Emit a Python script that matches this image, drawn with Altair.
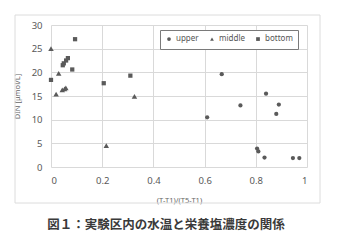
import altair as alt
import pandas as pd

# DIN against normalised temperature, by sampling layer
upper_x = [0.61, 0.667, 0.74, 0.84, 0.88, 0.89, 0.805, 0.81, 0.834, 0.945, 0.97]
upper_y = [10.5, 19.6, 13.0, 15.5, 11.2, 13.2, 3.9, 3.3, 2.0, 1.9, 1.9]
middle_x = [0.0, 0.03, 0.02, 0.044, 0.053, 0.058, 0.216, 0.326]
middle_y = [25.0, 19.8, 15.4, 16.3, 16.5, 16.7, 4.5, 14.9]
bottom_x = [0.0, 0.046, 0.05, 0.059, 0.066, 0.083, 0.094, 0.206, 0.31]
bottom_y = [18.4, 21.5, 21.9, 22.5, 23.0, 20.6, 27.0, 17.7, 19.3]

layers = ["upper", "middle", "bottom"]
marker_sizes = {"upper": 18, "middle": 30, "bottom": 18}
caption = "図１：実験区内の水温と栄養塩濃度の関係"

rows = []
for name, xs, ys in [("upper", upper_x, upper_y),
                     ("middle", middle_x, middle_y),
                     ("bottom", bottom_x, bottom_y)]:
    rows += [{"t": x, "din": y, "layer": name} for x, y in zip(xs, ys)]
df = pd.DataFrame(rows)

grey = "#5a5a5a"
font = "Noto Sans"

x_enc = alt.X("t:Q", scale=alt.Scale(domain=[0, 1], nice=False),
              axis=alt.Axis(values=[0, 0.2, 0.4, 0.6, 0.8, 1], labelExpr="format(datum.value, '')",
                            title="(T-T1)/(T5-T1)", titleFontSize=7.5, titleFontWeight="normal",
                            titleColor="#666666", titlePadding=12, labelPadding=8))
y_enc = alt.Y("din:Q", scale=alt.Scale(domain=[0, 30], nice=False),
              axis=alt.Axis(values=[0, 5, 10, 15, 20, 25, 30], title="DIN [μmol/L]",
                            titleFontSize=7.5, titleFontWeight="normal", titleColor="#666666",
                            titlePadding=10, labelPadding=9))
shape_enc = alt.Shape("layer:N",
                      scale=alt.Scale(domain=layers, range=["circle", "triangle-up", "square"]),
                      legend=alt.Legend(title=None, orient="none", legendX=109, legendY=5,
                                        direction="horizontal", strokeColor="#7a7a7a",
                                        fillColor="white", padding=5, symbolSize=14,
                                        symbolFillColor=grey, symbolStrokeColor=grey,
                                        labelFontSize=8, labelColor="#555555", labelFont=font,
                                        columnPadding=8, labelOffset=3))

# one point layer per sampling layer so each marker keeps its own size
point_layers = [
    alt.Chart(df).transform_filter(alt.datum.layer == name)
    .mark_point(filled=True, color=grey, opacity=1, size=marker_sizes[name], clip=False)
    .encode(x=x_enc, y=y_enc, shape=shape_enc)
    for name in layers
]

# light border round the figure
frame = alt.Chart(pd.DataFrame({"a": [0]})).mark_rect(
    fill=None, stroke="#dcdcdc", strokeWidth=1, clip=False
).encode(x=alt.value(-36), x2=alt.value(269), y=alt.value(-10), y2=alt.value(178))

title = alt.Chart(pd.DataFrame({"txt": [caption]})).mark_text(
    font="Noto Sans CJK JP", fontSize=12.5, fontWeight="bold", color="#3a3a3a",
    align="center", baseline="middle", clip=False
).encode(x=alt.value(115), y=alt.value(200), text="txt:N")

chart = alt.layer(frame, *point_layers, title).properties(
    width=256, height=142,
    autosize=alt.AutoSizeParams(type="none"),
    padding={"left": 51, "top": 25, "right": 41, "bottom": 77},
    background="white",
).configure_view(stroke=None).configure_axis(
    grid=True, gridColor="#d9d9d9", domain=False, ticks=False,
    labelFont=font, titleFont=font, labelFontSize=9.5, labelColor="#595959",
)

chart.save("out.html", embed_options={"renderer": "svg", "actions": False})
